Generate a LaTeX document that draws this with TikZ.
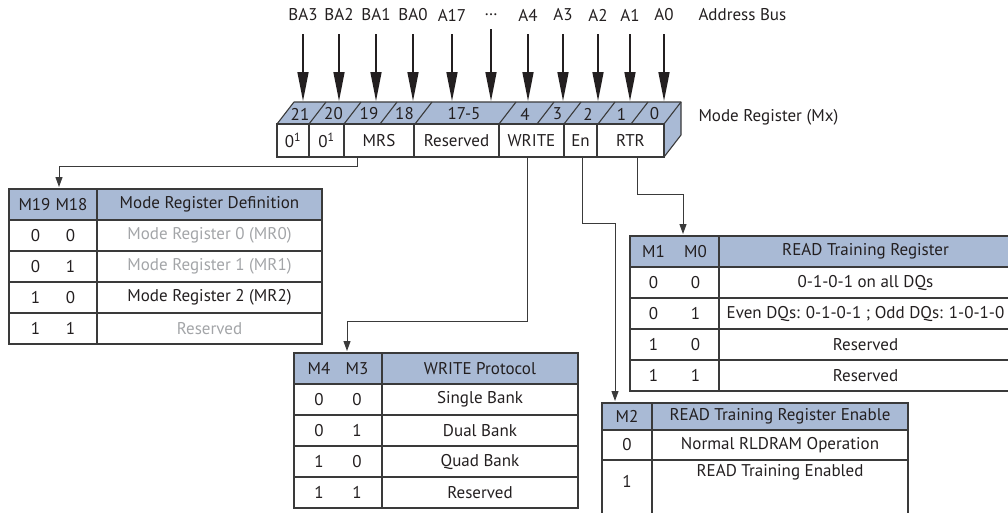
\documentclass[tikz,border=0pt]{standalone}
\usepackage{fontspec}
\setmainfont{PT Sans}
\usetikzlibrary{arrows.meta,positioning}
\definecolor{hdrblue}{HTML}{A9BAD5}
\definecolor{ink}{HTML}{231F20}
\definecolor{linegray}{HTML}{3A3A3A}
\definecolor{dimgray}{HTML}{A3A5A8}
\newcommand{\kv}[3]{\makebox[#1]{#2}\makebox[#1]{#3}}
\begin{document}
\begin{tikzpicture}[x=1pt,y=-1pt,font=\fontsize{17}{20}\selectfont,text=ink,
  cell/.style={draw=linegray,line width=1.1pt,inner sep=0pt,outer sep=0pt,minimum height=31pt,anchor=north west},
  hcell/.style={cell,fill=hdrblue},
  reg/.style={cell,minimum height=33pt,fill=white},
  bus/.style={-{Triangle[length=29pt,width=11pt]},line width=1.6pt,draw=ink,shorten <=11pt},
  conn/.style={-{Triangle[length=10pt,width=7pt]},line width=1pt,draw=linegray,shorten >=2pt}]
\useasboundingbox (0,0) rectangle (1008,512);
\clip (0,0) rectangle (1008,512);
% address bus
\foreach \x/\t [count=\i] in {303/BA3,339/BA2,376/BA1,413/BA0,452/A17,491/\ldots,528/A4,563/A3,598/A2,630/A1,664/A0}{
  \node[inner sep=2pt] (ab\i) at (\x,15) {\t};
  \coordinate (at\i) at (\x,101);
  \draw[bus] (ab\i) -- (at\i);}
\node[anchor=west] (abus) at (695,15) {Address Bus};
% mode register box
\fill[hdrblue] (277,124) -- (294,102) -- (681,102) -- (664,124) -- cycle;
\fill[hdrblue] (664,124) -- (681,102) -- (681,135) -- (664,157) -- cycle;
\draw[linegray,line width=1.1pt,line join=round] (277,124) -- (294,102) -- (681,102) -- (681,135) -- (664,157);
\draw[linegray,line width=1.1pt] (664,124) -- (681,102);
\foreach \b in {309,344,380,415,499,537,564,598,631} \draw[linegray,line width=1.1pt] (\b,124) -- ++(17,-22);
\foreach \a/\b/\t [count=\i] in {277/309/21,309/344/20,344/380/19,380/415/18,415/499/17-5,499/537/4,537/564/3,564/598/2,598/631/1,631/664/0}
  \node[inner sep=0pt] (bt\i) at ({(\a+\b)/2+7},114) {\t};
\node[reg,minimum width=32pt] (r21) at (277,124) {0\textsuperscript{1}};
\node[reg,minimum width=35pt,right=0pt of r21] (r20) {0\textsuperscript{1}};
\node[reg,minimum width=70pt,right=0pt of r20] (mrs) {MRS};
\node[reg,minimum width=85pt,right=0pt of mrs] (rsv) {Reserved};
\node[reg,minimum width=65pt,right=0pt of rsv] (wr) {WRITE};
\node[reg,minimum width=33pt,right=0pt of wr] (en) {En};
\node[reg,minimum width=67pt,right=0pt of en] (rtr) {RTR};
\node[anchor=west] (mx) at (695,117) {Mode Register (Mx)};
% MRS table
\node[hcell,minimum width=88pt] (mk0) at (9,189) {\kv{37pt}{M19}{M18}};
\node[hcell,minimum width=225pt,right=0pt of mk0] (mv0) {Mode Register Definition};
\foreach \k/\v [count=\i,remember=\i as \j (initially 0)] in {{\kv{35pt}{0}{0}}/{\textcolor{dimgray}{Mode Register 0 (MR0)}},{\kv{35pt}{0}{1}}/{\textcolor{dimgray}{Mode Register 1 (MR1)}},{\kv{35pt}{1}{0}}/{Mode Register 2 (MR2)},{\kv{35pt}{1}{1}}/{\textcolor{dimgray}{Reserved}}}{
  \node[cell,minimum width=88pt,below=0pt of mk\j] (mk\i) {\k};
  \node[cell,minimum width=225pt,right=0pt of mk\i] (mv\i) {\v};}
% WRITE table
\node[hcell,minimum width=88pt] (wk0) at (294,353) {\kv{38pt}{M4}{M3}};
\node[hcell,minimum width=196pt,right=0pt of wk0] (wv0) {WRITE Protocol};
\foreach \k/\v [count=\i,remember=\i as \j (initially 0)] in {{\kv{38pt}{0}{0}}/{Single Bank},{\kv{38pt}{0}{1}}/{Dual Bank},{\kv{38pt}{1}{0}}/{Quad Bank},{\kv{38pt}{1}{1}}/{Reserved}}{
  \node[cell,minimum width=88pt,below=0pt of wk\j] (wk\i) {\k};
  \node[cell,minimum width=196pt,right=0pt of wk\i] (wv\i) {\v};}
% RTR table
\node[hcell,minimum width=89pt] (rk0) at (630,236) {\kv{42pt}{M1}{M0}};
\node[hcell,minimum width=293pt,right=0pt of rk0] (rv0) {READ Training Register};
\foreach \k/\v [count=\i,remember=\i as \j (initially 0)] in {{\kv{42pt}{0}{0}}/{0-1-0-1 on all DQs},{\kv{42pt}{0}{1}}/{Even DQs: 0-1-0-1 ; Odd DQs: 1-0-1-0},{\kv{42pt}{1}{0}}/{Reserved},{\kv{42pt}{1}{1}}/{Reserved}}{
  \node[cell,minimum width=89pt,below=0pt of rk\j] (rk\i) {\k};
  \node[cell,minimum width=293pt,right=0pt of rk\i] (rv\i) {\v};}
% En table
\node[hcell,minimum width=50pt,minimum height=27pt] (ek0) at (602,403) {M2};
\node[hcell,minimum width=256pt,minimum height=27pt,right=0pt of ek0] (ev0) {READ Training Register Enable};
\node[cell,minimum width=50pt,minimum height=30pt,below=0pt of ek0] (ek1) {0};
\node[cell,minimum width=256pt,minimum height=30pt,right=0pt of ek1] (ev1) {Normal RLDRAM Operation};
\node[cell,minimum width=50pt,minimum height=80pt,below=0pt of ek1] (ek2) {};
\node[cell,minimum width=256pt,minimum height=80pt,right=0pt of ek2] (ev2) {};
\node (ek2t) at ([yshift=-21pt]ek2.north) {1};
\node (ev2t) at ([yshift=-12pt]ev2.north) {READ Training Enabled};
% field connectors
\draw[conn] ([xshift=-22pt]mrs.south) -- ++(0,9) -| ([xshift=6pt]mk0.north);
\draw[conn] ([xshift=-4.5pt]wr.south) -- ++(0,164) -| ([xshift=9pt]wk0.north);
\draw[conn] ([xshift=1.5pt]en.south) -- ++(0,66) -| ([xshift=-12pt]ek0.north);
\draw[conn] ([xshift=6.5pt]rtr.south) -- ++(0,37) -| ([xshift=8.5pt]rk0.north);
\end{tikzpicture}
\end{document}
